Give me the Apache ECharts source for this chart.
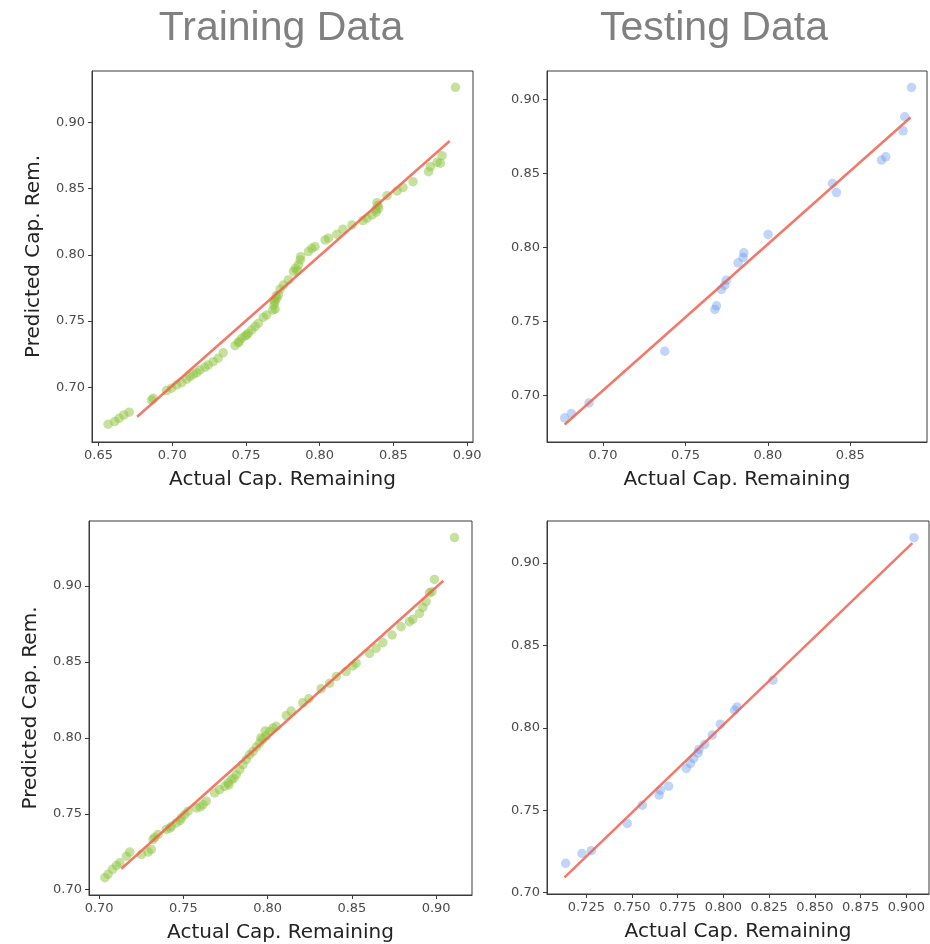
<!DOCTYPE html>
<html>
<head>
<meta charset="utf-8">
<script src="https://cdn.jsdelivr.net/npm/echarts@6/dist/echarts.min.js"></script>
<style>
  html, body { margin: 0; padding: 0; background: #ffffff; }
  #chart { width: 930px; height: 944px; }
</style>
</head>
<body>
<div id="chart"></div>
<script>
// ---------- Data ----------
const panelTitles = ['Training Data', 'Testing Data'];
const xAxisName = 'Actual Cap. Remaining';
const yAxisName = 'Predicted Cap. Rem.';

// Top-left: training set 1
const trainX1 = [0.6565,0.6610,0.6640,0.6672,0.6708,0.6860,0.6871,0.6962,0.6996,0.7030,0.7064,0.7098,0.7120,0.7143,0.7166,0.7188,0.7222,0.7244,0.7278,0.7312,0.7346,0.7426,0.7448,0.7455,0.7471,0.7494,0.7505,0.7516,0.7539,0.7562,0.7584,0.7618,0.7641,0.7682,0.7691,0.7690,0.7698,0.7698,0.7705,0.7709,0.7720,0.7732,0.7754,0.7788,0.7822,0.7834,0.7850,0.7856,0.7868,0.7872,0.7924,0.7947,0.7969,0.8037,0.8060,0.8117,0.8158,0.8219,0.8294,0.8321,0.8355,0.8380,0.8384,0.8395,0.8400,0.8389,0.8457,0.8525,0.8565,0.8633,0.8739,0.8751,0.8796,0.8819,0.8830,0.8921];
const trainY1 = [0.6721,0.6741,0.6766,0.6791,0.6812,0.6904,0.6917,0.6975,0.6993,0.7018,0.7035,0.7061,0.7080,0.7098,0.7110,0.7131,0.7151,0.7169,0.7193,0.7219,0.7261,0.7314,0.7337,0.7345,0.7370,0.7387,0.7395,0.7408,0.7433,0.7458,0.7483,0.7529,0.7546,0.7584,0.7621,0.7655,0.7589,0.7646,0.7690,0.7672,0.7697,0.7740,0.7772,0.7810,0.7873,0.7898,0.7880,0.7923,0.7961,0.7986,0.8024,0.8049,0.8061,0.8112,0.8125,0.8155,0.8193,0.8225,0.8258,0.8276,0.8301,0.8340,0.8321,0.8372,0.8351,0.8393,0.8446,0.8482,0.8507,0.8552,0.8627,0.8665,0.8698,0.8691,0.8748,0.9264];
const fitX1 = [0.6762, 0.8882];
const fitY1 = [0.6778, 0.8859];

// Top-right: testing set 1
const testX1 = [0.6767,0.6808,0.6915,0.7374,0.7678,0.7688,0.7718,0.7738,0.7748,0.7819,0.7850,0.7854,0.8001,0.8392,0.8416,0.8689,0.8715,0.8820,0.8830,0.8871];
const testY1 = [0.6847,0.6876,0.6948,0.7297,0.7579,0.7604,0.7714,0.7743,0.7777,0.7894,0.7930,0.7962,0.8086,0.8430,0.8369,0.8588,0.8610,0.8786,0.8881,0.9079];
const fitX2 = [0.6767, 0.8865];
const fitY2 = [0.6802, 0.8876];

// Bottom-left: training set 2
const trainX2 = [0.7034,0.7053,0.7079,0.7103,0.7123,0.7162,0.7182,0.7251,0.7291,0.7310,0.7320,0.7330,0.7350,0.7399,0.7420,0.7429,0.7458,0.7480,0.7488,0.7508,0.7528,0.7577,0.7600,0.7617,0.7636,0.7686,0.7715,0.7745,0.7765,0.7770,0.7785,0.7800,0.7814,0.7834,0.7854,0.7874,0.7893,0.7913,0.7933,0.7953,0.7960,0.7972,0.7985,0.7992,0.8012,0.8032,0.8051,0.8111,0.8140,0.8209,0.8245,0.8318,0.8368,0.8407,0.8466,0.8506,0.8526,0.8605,0.8644,0.8684,0.8739,0.8792,0.8842,0.8862,0.8901,0.8921,0.8941,0.8960,0.8976,0.8990,0.9109];
const trainY2 = [0.7079,0.7101,0.7134,0.7160,0.7177,0.7221,0.7248,0.7232,0.7248,0.7265,0.7331,0.7345,0.7364,0.7397,0.7405,0.7418,0.7440,0.7455,0.7473,0.7495,0.7517,0.7539,0.7545,0.7561,0.7583,0.7637,0.7659,0.7681,0.7703,0.7690,0.7725,0.7735,0.7758,0.7791,0.7824,0.7857,0.7889,0.7911,0.7940,0.7966,0.8000,0.7992,0.8045,0.8014,0.8043,0.8065,0.8076,0.8147,0.8177,0.8231,0.8258,0.8324,0.8360,0.8404,0.8437,0.8474,0.8492,0.8557,0.8590,0.8628,0.8678,0.8733,0.8766,0.8781,0.8820,0.8860,0.8897,0.8956,0.8963,0.9044,0.9320];
const fitX3 = [0.7132, 0.9043];
const fitY3 = [0.7138, 0.9035];

// Bottom-right: testing set 2
const testX2 = [0.7137,0.7226,0.7277,0.7474,0.7556,0.7648,0.7655,0.7700,0.7797,0.7819,0.7837,0.7861,0.7866,0.7897,0.7939,0.7983,0.8061,0.8074,0.8271,0.9042];
const testY2 = [0.7178,0.7238,0.7255,0.7420,0.7531,0.7592,0.7622,0.7646,0.7754,0.7784,0.7814,0.7848,0.7869,0.7899,0.7956,0.8022,0.8107,0.8127,0.8289,0.9154];
const fitX4 = [0.7131, 0.9033];
const fitY4 = [0.7093, 0.9121];

// Tick labels
const xTicks1 = [0.65, 0.70, 0.75, 0.80, 0.85, 0.90];
const yTicks1 = [0.70, 0.75, 0.80, 0.85, 0.90];
const xTicks2 = [0.70, 0.75, 0.80, 0.85];
const yTicks2 = [0.70, 0.75, 0.80, 0.85, 0.90];
const xTicks3 = [0.70, 0.75, 0.80, 0.85, 0.90];
const yTicks3 = [0.70, 0.75, 0.80, 0.85, 0.90];
const xTicks4 = [0.725, 0.750, 0.775, 0.800, 0.825, 0.850, 0.875, 0.900];
const yTicks4 = [0.70, 0.75, 0.80, 0.85, 0.90];

// Axis extents
const xRange = [[0.6456, 0.9040], [0.6660, 0.8965], [0.6940, 0.9213], [0.7035, 0.9124]];
const yRange = [[0.6587, 0.9387], [0.6684, 0.9190], [0.6965, 0.9429], [0.6992, 0.9255]];

// ---------- Build ----------
const zip = (xs, ys) => xs.map((x, i) => [x, ys[i]]);

const grids = [
  { left: 92, top: 71, width: 381, height: 371 },
  { left: 547, top: 71, width: 380, height: 371 },
  { left: 89, top: 521, width: 383, height: 375 },
  { left: 547, top: 521, width: 382, height: 373 }
].map(g => Object.assign({ show: true, borderColor: '#3a3a3a', borderWidth: 1, backgroundColor: 'transparent' }, g));

const xTickSets = [xTicks1, xTicks2, xTicks3, xTicks4];
const yTickSets = [yTicks1, yTicks2, yTicks3, yTicks4];
const xDigits = [2, 2, 2, 3];

const tickFont = { color: '#4a4a4a', fontSize: 13, fontFamily: 'DejaVu Sans' };
const nameFont = { color: '#222222', fontSize: 20, fontFamily: 'DejaVu Sans' };

const xAxes = [0, 1, 2, 3].map(i => ({
  type: 'value', gridIndex: i, min: xRange[i][0], max: xRange[i][1],
  name: xAxisName, nameLocation: 'middle', nameGap: 28, nameTextStyle: nameFont,
  axisLine: { show: true, onZero: false, lineStyle: { color: '#3a3a3a', width: 1 } },
  axisTick: { show: true, length: 4, customValues: xTickSets[i], lineStyle: { color: '#3a3a3a' } },
  axisLabel: Object.assign({ margin: 7, customValues: xTickSets[i], formatter: v => v.toFixed(xDigits[i]) }, tickFont),
  splitLine: { show: false }
}));

const yAxes = [0, 1, 2, 3].map(i => ({
  type: 'value', gridIndex: i, min: yRange[i][0], max: yRange[i][1],
  name: (i === 0 || i === 2) ? yAxisName : '', nameLocation: 'middle', nameGap: 48, nameRotate: 90,
  nameTextStyle: nameFont,
  axisLine: { show: true, onZero: false, lineStyle: { color: '#3a3a3a', width: 1 } },
  axisTick: { show: true, length: 4, customValues: yTickSets[i], lineStyle: { color: '#3a3a3a' } },
  axisLabel: Object.assign({ margin: 7, customValues: yTickSets[i], formatter: v => v.toFixed(2) }, tickFont),
  splitLine: { show: false }
}));

const green = '#8cc43c';
const blue = '#6495ED';
const red = '#f0604f';

const scatterSets = [zip(trainX1, trainY1), zip(testX1, testY1), zip(trainX2, trainY2), zip(testX2, testY2)];
const fitSets = [zip(fitX1, fitY1), zip(fitX2, fitY2), zip(fitX3, fitY3), zip(fitX4, fitY4)];
const colors = [green, blue, green, blue];
const opac = [0.5, 0.4, 0.5, 0.4];

const series = [];
for (let i = 0; i < 4; i++) {
  series.push({
    type: 'scatter', xAxisIndex: i, yAxisIndex: i, data: scatterSets[i],
    symbolSize: 9.5, itemStyle: { color: colors[i], opacity: opac[i] }, z: 2, silent: true
  });
  series.push({
    type: 'line', xAxisIndex: i, yAxisIndex: i, data: fitSets[i], showSymbol: false, symbol: 'none',
    lineStyle: { color: red, width: 2.5, opacity: 0.85 }, z: 3, silent: true
  });
}

const titleStyle = { color: '#808080', fontSize: 41, fontWeight: 'normal', fontFamily: 'Liberation Sans' };

const chart = echarts.init(document.getElementById('chart'), null, { renderer: 'canvas' });
chart.setOption({
  animation: false,
  backgroundColor: '#ffffff',
  title: [
    { text: panelTitles[0], left: 276, top: 3, textAlign: 'center', textStyle: titleStyle },
    { text: panelTitles[1], left: 709, top: 3, textAlign: 'center', textStyle: titleStyle }
  ],
  grid: grids,
  xAxis: xAxes,
  yAxis: yAxes,
  series: series
});
</script>
</body>
</html>
